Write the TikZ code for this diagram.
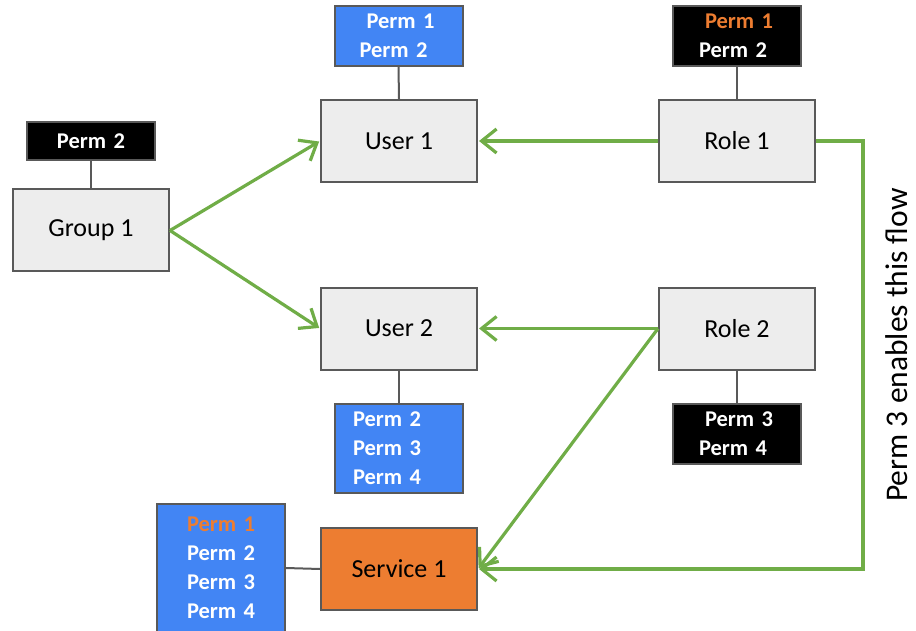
\documentclass[tikz,border=0pt]{standalone}
\usepackage{fontspec}
\setmainfont{Carlito}
\usetikzlibrary{arrows.meta}
\definecolor{permblue}{HTML}{4285F4}
\definecolor{svcorange}{HTML}{ED7D31}
\definecolor{boxgray}{HTML}{EDEDED}
\definecolor{edgegray}{HTML}{595959}
\definecolor{flowgreen}{HTML}{70AD47}
\newcommand{\ind}[1]{\hspace*{#1pt}}
\begin{document}
\begin{tikzpicture}[x=1pt,y=-1pt,
  entity/.style={draw=edgegray, line width=2pt, fill=boxgray,
    minimum width=156pt, minimum height=82pt, inner sep=0pt,
    font=\fontsize{26}{30}\selectfont, text=black},
  permset/.style={draw=edgegray, line width=2pt, inner sep=0pt,
    text width=128pt, text=white, align=left,
    font=\bfseries\fontsize{22.5}{29}\selectfont},
  bluebox/.style={permset, fill=permblue},
  blackbox/.style={permset, fill=black},
  link/.style={draw=edgegray, line width=2pt},
  flow/.style={draw=flowgreen, line width=3.2pt, shorten >=1pt,
    -{Straight Barb[length=15pt,width=24pt]}},
]
\useasboundingbox (0,0) rectangle (916,631);

% principals and roles
\node[entity] (group) at (91,230.5) {Group 1};
\node[entity] (user1) at (399,141) {User 1};
\node[entity] (user2) at (399,328.5) {User 2};
\node[entity] (role1) at (737,141) {Role 1};
\node[entity] (role2) at (737,328.5) {Role 2};
\node[entity, fill=svcorange] (service) at (399,569) {Service 1};

% permission sets
\node[blackbox, minimum height=38pt]
  (gperm) at (91,141) {\ind{30}Perm 2};
\node[bluebox, minimum height=60pt]
  (u1perm) at (398.5,36) {\ind{32}Perm 1\\\ind{25}Perm 2};
\node[blackbox, minimum height=60pt]
  (r1perm) at (737,36) {\ind{32}{\color{svcorange}Perm 1}\\\ind{26}Perm 2};
\node[bluebox, minimum height=89pt]
  (u2perm) at (399,448.5) {\ind{18}Perm 2\\\ind{18}Perm 3\\\ind{18}Perm 4};
\node[blackbox, minimum height=60pt]
  (r2perm) at (737,434) {\ind{32}Perm 3\\\ind{26}Perm 4};
\node[bluebox, minimum height=128pt]
  (sperm) at (221,568)
  {\ind{30}{\color{svcorange}Perm 1}\\\ind{30}Perm 2\\\ind{30}Perm 3\\\ind{30}Perm 4};

% attachments
\draw[link] (gperm.south) -- (group.north);
\draw[link] (u1perm.south) -- (user1.north);
\draw[link] (r1perm.south) -- (role1.north);
\draw[link] (user2.south) -- (u2perm.north);
\draw[link] (role2.south) -- (r2perm.north);
\draw[link] (sperm.east) -- (service.west);

% flows
\coordinate (bend) at (863,141);
\draw[flow] (group.east) -- (user1.west);
\draw[flow] (group.east) -- (user2.west);
\draw[flow] (role1.west) -- (user1.east);
\draw[flow] (role2.west) -- (user2.east);
\draw[flow] (role2.west) -- (service.east);
\draw[flow] (role1.east) -- (bend) |- (service.east);

\node[rotate=90, anchor=base, inner sep=0pt, font=\fontsize{31.5}{36}\selectfont]
  (note) at (907,345) {Perm 3 enables this flow};
\end{tikzpicture}
\end{document}
